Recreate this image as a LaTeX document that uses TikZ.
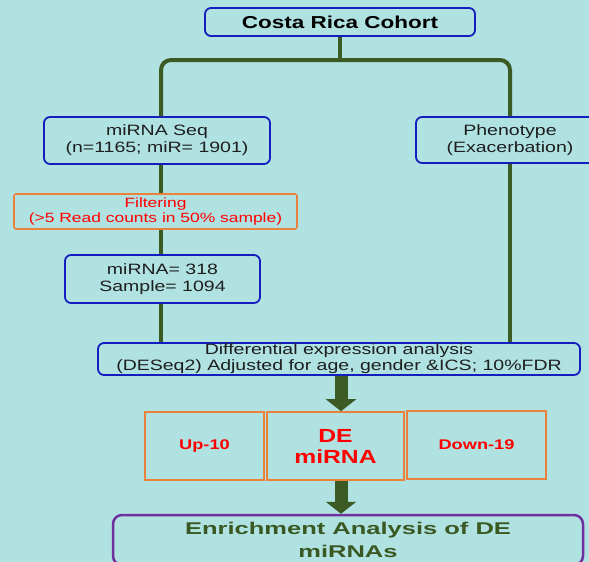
\documentclass[tikz,border=0pt]{standalone}
\usepackage{fontspec}
\setmainfont{Liberation Sans}[FakeStretch=1.3]
\newfontfamily\enrfont{Liberation Sans}[FakeStretch=1.5]
\usetikzlibrary{arrows.meta}
\definecolor{bg}{RGB}{176,226,226}
\definecolor{bblue}{RGB}{20,30,190}
\definecolor{lgreen}{RGB}{60,90,35}
\definecolor{orng}{RGB}{235,130,60}
\definecolor{purp}{RGB}{112,48,160}
\definecolor{txt}{RGB}{30,30,30}
\definecolor{gtxt}{RGB}{58,88,34}
\begin{document}
\begin{tikzpicture}[x=1pt,y=-1pt,
 bbox/.style={draw=bblue, line width=1.8pt, rounded corners=6pt, text=txt, align=center, inner sep=0pt},
 obox/.style={draw=orng, line width=1.6pt, align=center, inner sep=0pt, text=red},
 link/.style={draw=lgreen, line width=4pt},
 fat/.style={draw=lgreen, line width=13pt, -{Triangle[width=30pt,length=12pt]}}
]
\fill[bg] (0,0) rectangle (589,562);
\useasboundingbox (0,0) rectangle (589,562);
\clip (0,0) rectangle (589,562);

\node[bbox, minimum width=270pt, minimum height=28pt, font=\fontsize{17.3}{19}\selectfont\bfseries, text=black] (top) at (340,22) {Costa Rica Cohort};
\node[bbox, minimum width=226pt, minimum height=47pt, font=\fontsize{15}{17}\selectfont] (seq) at (157,140.5) {miRNA Seq\\(n=1165; miR= 1901)};
\node[bbox, minimum width=188pt, minimum height=46pt, font=\fontsize{15}{17}\selectfont] (pheno) at (510,140) {Phenotype\\(Exacerbation)};
\node[obox, rounded corners=2pt, minimum width=283pt, minimum height=35pt, font=\fontsize{13.4}{15}\selectfont] (filt) at (155.5,211.5) {Filtering\\(>5 Read counts in 50\% sample)};
\node[bbox, minimum width=195pt, minimum height=48pt, font=\fontsize{15}{17}\selectfont] (mir) at (162.5,279) {miRNA= 318\\Sample= 1094};
\node[bbox, minimum width=482pt, minimum height=32pt, font=\fontsize{15}{16}\selectfont] (dea) at (339,359) {Differential expression analysis\\(DESeq2) Adjusted for age, gender \&ICS; 10\%FDR};
\node[obox, minimum width=119pt, minimum height=68pt, font=\fontsize{14}{17}\selectfont\bfseries] (up) at (204.5,446) {Up-10};
\node[obox, minimum width=137pt, minimum height=68pt, font=\fontsize{19}{21}\selectfont\bfseries] (demi) at (335.5,446) {DE\\miRNA};
\node[obox, minimum width=139pt, minimum height=68pt, font=\fontsize{14}{17}\selectfont\bfseries] (down) at (476.5,445) {Down-19};
\node[draw=purp, line width=2.5pt, rounded corners=9pt, minimum width=470pt, minimum height=50pt, inner sep=0pt, align=center, text=gtxt, font=\enrfont\fontsize{17}{23}\selectfont\bfseries] (enr) at (348,540) {Enrichment Analysis of DE\\miRNAs};

\coordinate (bj) at (340,60);
\coordinate (lx) at (161,0);
\coordinate (rx) at (510,0);
\coordinate (ax) at (341,0);
\draw[link] (top.south) -- (bj);
\draw[link, rounded corners=10pt] (seq.north -| lx) |- (bj) -| (pheno.north);
\draw[link] (seq.south -| lx) -- (filt.north -| lx);
\draw[link] (filt.south -| lx) -- (mir.north -| lx);
\draw[link] (mir.south -| lx) -- (dea.north -| lx);
\draw[link] (pheno.south) -- (dea.north -| rx);
\draw[fat] (dea.south -| ax) -- (demi.north -| ax);
\draw[fat] (demi.south -| ax) -- (enr.north -| ax);
\end{tikzpicture}
\end{document}
